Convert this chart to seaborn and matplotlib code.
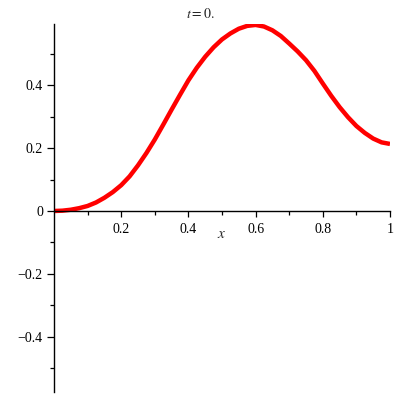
import matplotlib
matplotlib.use("Agg")
import matplotlib.pyplot as plt
import seaborn as sns
import pandas as pd
from matplotlib.ticker import FixedLocator

x_vals = [0.0, 0.025, 0.05, 0.075, 0.1, 0.125, 0.15, 0.175, 0.2, 0.225, 0.25,
          0.275, 0.3, 0.325, 0.35, 0.375, 0.4, 0.425, 0.45, 0.475, 0.5,
          0.525, 0.55, 0.575, 0.6, 0.625, 0.65, 0.675, 0.7, 0.725, 0.75,
          0.775, 0.8, 0.825, 0.85, 0.875, 0.9, 0.925, 0.95, 0.975, 1.0]
y_vals = [0.0, 0.001, 0.004, 0.009, 0.016, 0.027, 0.042, 0.060, 0.082, 0.110, 0.145,
          0.184, 0.227, 0.274, 0.322, 0.369, 0.415, 0.455, 0.490, 0.520, 0.545,
          0.564, 0.579, 0.588, 0.591, 0.586, 0.574, 0.556, 0.532, 0.507, 0.479,
          0.445, 0.405, 0.366, 0.330, 0.298, 0.270, 0.248, 0.230, 0.218, 0.213]
x_ticks = [0.2, 0.4, 0.6, 0.8, 1.0]
x_tick_labels = ["0.2", "0.4", "0.6", "0.8", "1"]
y_ticks = [-0.4, -0.2, 0.0, 0.2, 0.4]
y_tick_labels = ["\u22120.4", "\u22120.2", "0", "0.2", "0.4"]

sns.set_style("white")
plt.rcParams['font.family'] = ['Liberation Serif', 'DejaVu Serif']
plt.rcParams['mathtext.fontset'] = 'stix'

df = pd.DataFrame({"x": x_vals, "y": y_vals})

fig = plt.figure(figsize=(4, 4), dpi=100)
ax = fig.add_axes([0.135, 0.02, 0.84, 0.92])
sns.lineplot(data=df, x="x", y="y", ax=ax, color="#ff0000", linewidth=3.2,
             solid_capstyle="butt", solid_joinstyle="round")

ax.set_xlim(0, 1)
ax.set_ylim(-0.575, 0.594)

for s in ["top", "right"]:
    ax.spines[s].set_visible(False)
ax.spines["left"].set_position(("data", 0))
ax.spines["bottom"].set_position(("data", 0))
for s in ["left", "bottom"]:
    ax.spines[s].set_color("black")
    ax.spines[s].set_linewidth(1.0)

ax.set_xticks(x_ticks)
ax.set_xticklabels(x_tick_labels)
ax.set_yticks(y_ticks)
ax.set_yticklabels(y_tick_labels)
ax.xaxis.set_minor_locator(FixedLocator([0.1, 0.3, 0.5, 0.7, 0.9]))
ax.yaxis.set_minor_locator(FixedLocator([-0.5, -0.3, -0.1, 0.1, 0.3, 0.5]))
ax.tick_params(axis="both", which="major", direction="out", length=5, width=0.9,
               labelsize=10, colors="black", pad=3, bottom=True, left=True)
ax.tick_params(axis="both", which="minor", direction="out", length=3, width=0.9,
               colors="black", bottom=True, left=True)
ax.tick_params(axis="x", which="major", length=4, pad=5)

ax.set_xlabel("$x$", fontsize=11, labelpad=2)
ax.xaxis.set_label_coords(0.5, 0.445)
ax.set_ylabel("")
fig.text(0.5, 0.965, "$t = 0.$", ha="center", va="center", fontsize=10)

fig.savefig("out.png", dpi=100, facecolor="white")
